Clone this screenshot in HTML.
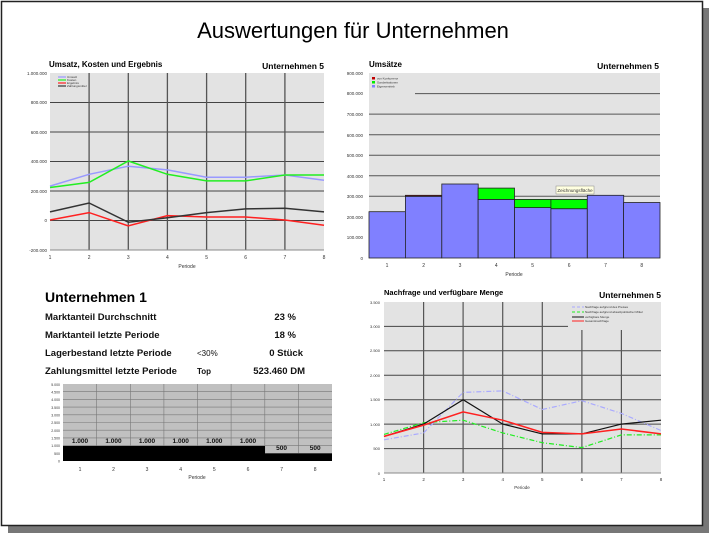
<!DOCTYPE html>
<html><head><meta charset="utf-8"><style>
html,body{margin:0;padding:0;background:#fff;}
svg text{font-family:"Liberation Sans",Arial,sans-serif;}
</style></head><body>
<svg width="710" height="535" viewBox="0 0 710 535" xmlns="http://www.w3.org/2000/svg">
<rect x="0" y="0" width="710" height="535" fill="#fff"/>
<!-- shadow -->
<rect x="8" y="526" width="701" height="7" fill="#777"/>
<rect x="703" y="8" width="6" height="525" fill="#777"/>
<rect x="1.5" y="1.5" width="701" height="524" fill="#fff" stroke="#222" stroke-width="1.5"/>
<text x="353" y="38" font-size="22" text-anchor="middle" fill="#000">Auswertungen für Unternehmen</text>

<!-- Chart 1 -->
<text x="49" y="67" font-size="8" font-weight="bold">Umsatz, Kosten und Ergebnis</text>
<text x="324" y="69" font-size="8.5" font-weight="bold" text-anchor="end">Unternehmen 5</text>
<rect x="50" y="73" width="274" height="177" fill="#e3e3e3"/>
<g stroke="#444" stroke-width="1">
<line x1="50" y1="102.5" x2="324" y2="102.5"/><line x1="50" y1="132" x2="324" y2="132"/>
<line x1="50" y1="161.5" x2="324" y2="161.5"/><line x1="50" y1="191" x2="324" y2="191"/>
<line x1="50" y1="220.5" x2="324" y2="220.5"/>
</g>
<g stroke="#555" stroke-width="1.3">
<line x1="89.1" y1="73" x2="89.1" y2="250"/><line x1="128.3" y1="73" x2="128.3" y2="250"/>
<line x1="167.4" y1="73" x2="167.4" y2="250"/><line x1="206.6" y1="73" x2="206.6" y2="250"/>
<line x1="245.7" y1="73" x2="245.7" y2="250"/><line x1="284.9" y1="73" x2="284.9" y2="250"/>
</g>
<line x1="50" y1="250" x2="324" y2="250" stroke="#888"/>
<g font-size="4.5" fill="#333" text-anchor="end">
<text x="47" y="75">1.000.000</text><text x="47" y="104">800.000</text><text x="47" y="134">600.000</text>
<text x="47" y="163">400.000</text><text x="47" y="193">200.000</text><text x="47" y="222">0</text><text x="47" y="252">-200.000</text>
</g>
<g font-size="5" fill="#333" text-anchor="middle">
<text x="50" y="259">1</text><text x="89.1" y="259">2</text><text x="128.3" y="259">3</text><text x="167.4" y="259">4</text>
<text x="206.6" y="259">5</text><text x="245.7" y="259">6</text><text x="284.9" y="259">7</text><text x="324" y="259">8</text>
<text x="187" y="268">Periode</text>
</g>
<g fill="none" stroke-width="1.5">
<polyline stroke="#9999ff" points="50,186.1 89.1,174.3 128.3,166.2 167.4,169.9 206.6,177.2 245.7,177.2 284.9,175 324,180.2"/>
<polyline stroke="#22ee22" points="50,187.5 89.1,182.4 128.3,161 167.4,174.3 206.6,180.9 245.7,180.9 284.9,175 324,175"/>
<polyline stroke="#ff2020" points="50,220 89.1,212.6 128.3,225.9 167.4,215.6 206.6,217 245.7,217 284.9,220 324,225.2"/>
<polyline stroke="#333" points="50,211.9 89.1,203 128.3,222.2 167.4,217.8 206.6,212.6 245.7,208.9 284.9,208.2 324,211.9"/>
</g>
<g stroke-width="1.2"><line x1="58" y1="77" x2="66" y2="77" stroke="#9999ff"/><line x1="58" y1="80" x2="66" y2="80" stroke="#22ee22"/>
<line x1="58" y1="83" x2="66" y2="83" stroke="#ff2020"/><line x1="58" y1="86" x2="66" y2="86" stroke="#333"/></g>
<g font-size="3" fill="#333"><text x="67" y="78">Umsatz</text><text x="67" y="81">Kosten</text><text x="67" y="84">Ergebnis</text><text x="67" y="87">Zahlungsmittel</text></g>

<!-- Chart 2 -->
<text x="369" y="67" font-size="8" font-weight="bold">Umsätze</text>
<text x="659" y="69" font-size="8.5" font-weight="bold" text-anchor="end">Unternehmen 5</text>
<rect x="369" y="73" width="291" height="185" fill="#e3e3e3"/>
<g stroke="#555" stroke-width="1">
<line x1="369" y1="237.4" x2="660" y2="237.4"/><line x1="369" y1="216.9" x2="660" y2="216.9"/>
<line x1="369" y1="196.3" x2="660" y2="196.3"/><line x1="369" y1="175.8" x2="660" y2="175.8"/>
<line x1="369" y1="155.2" x2="660" y2="155.2"/><line x1="369" y1="134.7" x2="660" y2="134.7"/>
<line x1="369" y1="114.1" x2="660" y2="114.1"/><line x1="415" y1="93.6" x2="660" y2="93.6"/>
</g>
<g stroke="#222" stroke-width="0.8">
<rect x="369" y="211.7" width="36.4" height="46.3" fill="#8080ff"/>
<rect x="405.4" y="196.3" width="36.4" height="61.7" fill="#8080ff"/>
<rect x="405.4" y="195.3" width="36.4" height="1" fill="#c00000"/>
<rect x="441.8" y="184" width="36.4" height="74" fill="#8080ff"/>
<rect x="478.1" y="199.4" width="36.4" height="58.6" fill="#8080ff"/>
<rect x="478.1" y="188.1" width="36.4" height="11.3" fill="#00ff00"/>
<rect x="514.5" y="207.6" width="36.4" height="50.4" fill="#8080ff"/>
<rect x="514.5" y="199.4" width="36.4" height="8.2" fill="#00ff00"/>
<rect x="550.9" y="208.7" width="36.4" height="49.3" fill="#8080ff"/>
<rect x="550.9" y="199.4" width="36.4" height="9.3" fill="#00ff00"/>
<rect x="587.3" y="195.3" width="36.4" height="62.7" fill="#8080ff"/>
<rect x="623.6" y="202.5" width="36.4" height="55.5" fill="#8080ff"/>
</g>
<rect x="556" y="186" width="38" height="8" fill="#ffffe0" stroke="#888" stroke-width="0.5"/>
<text x="575" y="192" font-size="4.5" text-anchor="middle" fill="#333">Zeichnungsfläche</text>
<g font-size="4.5" fill="#333" text-anchor="end">
<text x="363" y="75">900.000</text><text x="363" y="95">800.000</text><text x="363" y="116">700.000</text>
<text x="363" y="137">600.000</text><text x="363" y="157">500.000</text><text x="363" y="178">400.000</text>
<text x="363" y="198">300.000</text><text x="363" y="219">200.000</text><text x="363" y="239">100.000</text><text x="363" y="260">0</text>
</g>
<g font-size="5" fill="#333" text-anchor="middle">
<text x="387" y="267">1</text><text x="423.6" y="267">2</text><text x="460" y="267">3</text><text x="496.3" y="267">4</text>
<text x="532.7" y="267">5</text><text x="569.1" y="267">6</text><text x="605.5" y="267">7</text><text x="641.8" y="267">8</text>
<text x="514" y="276">Periode</text>
</g>
<rect x="372" y="77" width="3" height="2.5" fill="#c00000"/><rect x="372" y="81" width="3" height="2.5" fill="#00ee00"/><rect x="372" y="85" width="3" height="2.5" fill="#8080ff"/>
<g font-size="3" fill="#333"><text x="377" y="79.5">von Konkurrenz</text><text x="377" y="83.5">Sonderkationen</text><text x="377" y="87.5">Eigenvertrieb</text></g>

<!-- Unternehmen 1 -->
<text x="45" y="302" font-size="14" font-weight="bold">Unternehmen 1</text>
<g font-size="9.5" font-weight="bold" fill="#111">
<text x="45" y="320">Marktanteil Durchschnitt</text><text x="296" y="320" text-anchor="end">23 %</text>
<text x="45" y="338">Marktanteil letzte Periode</text><text x="296" y="338" text-anchor="end">18 %</text>
<text x="45" y="356">Lagerbestand letzte Periode</text><text x="303" y="356" text-anchor="end">0 Stück</text>
<text x="45" y="374">Zahlungsmittel letzte Periode</text><text x="305" y="374" text-anchor="end">523.460 DM</text>
</g>
<g font-size="8" fill="#111"><text x="197" y="356">&lt;30%</text><text x="197" y="374" font-weight="bold">Top</text></g>

<!-- bottom bar -->
<rect x="63" y="384" width="269" height="77" fill="#c0c0c0"/>
<g stroke="#777" stroke-width="0.6">
<line x1="63" y1="391.7" x2="332" y2="391.7"/><line x1="63" y1="399.4" x2="332" y2="399.4"/><line x1="63" y1="407.1" x2="332" y2="407.1"/>
<line x1="63" y1="414.8" x2="332" y2="414.8"/><line x1="63" y1="422.5" x2="332" y2="422.5"/><line x1="63" y1="430.2" x2="332" y2="430.2"/>
<line x1="63" y1="437.9" x2="332" y2="437.9"/><line x1="63" y1="445.6" x2="332" y2="445.6"/><line x1="63" y1="453.3" x2="332" y2="453.3"/>
<line x1="96.6" y1="384" x2="96.6" y2="461"/><line x1="130.3" y1="384" x2="130.3" y2="461"/><line x1="163.9" y1="384" x2="163.9" y2="461"/>
<line x1="197.5" y1="384" x2="197.5" y2="461"/><line x1="231.1" y1="384" x2="231.1" y2="461"/><line x1="264.8" y1="384" x2="264.8" y2="461"/>
<line x1="298.4" y1="384" x2="298.4" y2="461"/>
</g>
<rect x="63" y="446" width="202" height="15" fill="#000"/>
<rect x="264.8" y="453.5" width="67.2" height="7.5" fill="#000"/>
<g font-size="6.5" font-weight="bold" text-anchor="middle" fill="#111">
<text x="80" y="443">1.000</text><text x="113.5" y="443">1.000</text><text x="147" y="443">1.000</text><text x="180.7" y="443">1.000</text>
<text x="214.3" y="443">1.000</text><text x="248" y="443">1.000</text><text x="281.6" y="450">500</text><text x="315.2" y="450">500</text>
</g>
<g font-size="3.5" fill="#333" text-anchor="end">
<text x="60" y="386">5.000</text><text x="60" y="393.5">4.500</text><text x="60" y="401">4.000</text><text x="60" y="409">3.500</text>
<text x="60" y="416.5">3.000</text><text x="60" y="424">2.500</text><text x="60" y="432">2.000</text><text x="60" y="439.5">1.500</text>
<text x="60" y="447">1.000</text><text x="60" y="455">500</text><text x="60" y="462.5">0</text>
</g>
<g font-size="5" fill="#333" text-anchor="middle">
<text x="80" y="471">1</text><text x="113.5" y="471">2</text><text x="147" y="471">3</text><text x="180.7" y="471">4</text>
<text x="214.3" y="471">5</text><text x="248" y="471">6</text><text x="281.6" y="471">7</text><text x="315.2" y="471">8</text>
<text x="197" y="479">Periode</text>
</g>

<!-- Chart 3 -->
<text x="384" y="295" font-size="7.5" font-weight="bold">Nachfrage und verfügbare Menge</text>
<text x="661" y="298" font-size="8.5" font-weight="bold" text-anchor="end">Unternehmen 5</text>
<rect x="384" y="302" width="277" height="171" fill="#e3e3e3"/>
<g stroke="#444" stroke-width="1">
<line x1="384" y1="448.6" x2="661" y2="448.6"/><line x1="384" y1="424.1" x2="661" y2="424.1"/>
<line x1="384" y1="399.7" x2="661" y2="399.7"/><line x1="384" y1="375.3" x2="661" y2="375.3"/>
<line x1="384" y1="350.8" x2="661" y2="350.8"/><line x1="384" y1="326.4" x2="568" y2="326.4"/>
</g>
<g stroke="#555" stroke-width="1.2">
<line x1="423.6" y1="302" x2="423.6" y2="473"/><line x1="463.1" y1="302" x2="463.1" y2="473"/>
<line x1="502.7" y1="302" x2="502.7" y2="473"/><line x1="542.3" y1="302" x2="542.3" y2="473"/>
<line x1="581.9" y1="330" x2="581.9" y2="473"/><line x1="621.4" y1="330" x2="621.4" y2="473"/>
</g>
<line x1="384" y1="473" x2="661" y2="473" stroke="#888"/>
<g fill="none" stroke-width="1.2">
<polyline stroke="#aaaaff" stroke-dasharray="5,2,1,2" points="384,439.8 423.6,432.9 463.1,392.4 502.7,390.9 542.3,409.5 581.9,400.7 621.4,413.4 661,430.5"/>
<polyline stroke="#22ee22" stroke-dasharray="5,2,1,2" points="384,434.4 423.6,422.7 463.1,420.2 502.7,432.9 542.3,442.7 581.9,447.6 621.4,434.9 661,434.9"/>
<polyline stroke="#111" points="384,436.4 423.6,424.1 463.1,399.7 502.7,424.1 542.3,433.9 581.9,433.9 621.4,424.1 661,420.2"/>
<polyline stroke="#ff2020" stroke-width="1.5" points="384,436.4 423.6,425.1 463.1,411.9 502.7,420.2 542.3,432.4 581.9,433.9 621.4,429 661,433.9"/>
</g>
<g stroke-width="1"><line x1="572" y1="307" x2="584" y2="307" stroke="#aaaaff" stroke-dasharray="3,2"/><line x1="572" y1="312" x2="584" y2="312" stroke="#22ee22" stroke-dasharray="3,2"/>
<line x1="572" y1="317" x2="584" y2="317" stroke="#111"/><line x1="572" y1="321" x2="584" y2="321" stroke="#ff2020"/></g>
<g font-size="3" fill="#333"><text x="585" y="308">Nachfrage aufgrund des Preises</text><text x="585" y="313">Nachfrage aufgrund absatzpolitischer Mittel</text>
<text x="585" y="318">verfügbare Menge</text><text x="585" y="322">Gesamtnachfrage</text></g>
<g font-size="4" fill="#333" text-anchor="end">
<text x="380" y="304">3.500</text><text x="380" y="328">3.000</text><text x="380" y="352">2.500</text><text x="380" y="377">2.000</text>
<text x="380" y="401">1.500</text><text x="380" y="426">1.000</text><text x="380" y="450">500</text><text x="380" y="475">0</text>
</g>
<g font-size="4.5" fill="#333" text-anchor="middle">
<text x="384" y="481">1</text><text x="423.6" y="481">2</text><text x="463.1" y="481">3</text><text x="502.7" y="481">4</text>
<text x="542.3" y="481">5</text><text x="581.9" y="481">6</text><text x="621.4" y="481">7</text><text x="661" y="481">8</text>
<text x="522" y="489">Periode</text>
</g>
</svg>
</body></html>
